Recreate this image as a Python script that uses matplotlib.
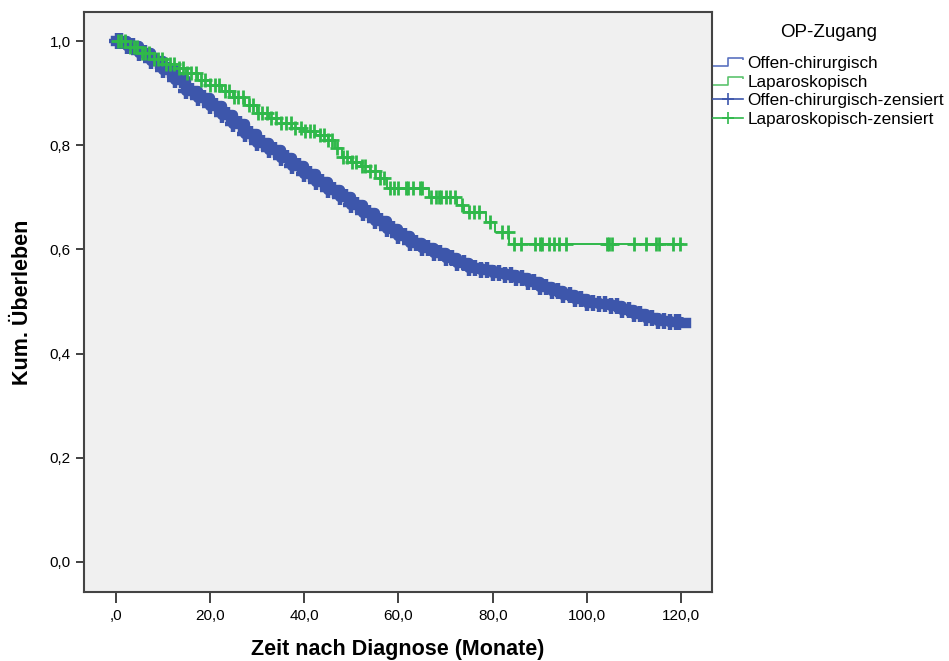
import numpy as np
import matplotlib
matplotlib.use("Agg")
import matplotlib.pyplot as plt
from matplotlib.lines import Line2D
from matplotlib.path import Path

plt.rcParams['font.family'] = ['Liberation Sans', 'DejaVu Sans']

# Offen-chirurgisch: Kaplan-Meier steps (months, cum. survival)
blue_t = [0, 2.5, 5, 7.5, 10, 12.5, 15, 17.5, 20, 22.5, 25, 27.5, 30, 32.5, 35,
          37.5, 40, 42.5, 45, 47.5, 50, 52.5, 55, 57.5, 60, 62.5, 65, 67.5, 70,
          72.5, 75, 77.5, 80, 82.5, 85, 87.5, 90, 92.5, 95, 97.5, 100, 102.5,
          105, 107.5, 110, 112.5, 115, 117.5, 120]
blue_s = [1.000, 0.991, 0.978, 0.962, 0.945, 0.925, 0.905, 0.890, 0.875, 0.858,
          0.840, 0.822, 0.805, 0.790, 0.775, 0.760, 0.745, 0.730, 0.715, 0.700,
          0.685, 0.670, 0.655, 0.640, 0.625, 0.613, 0.603, 0.593, 0.583, 0.574,
          0.565, 0.560, 0.555, 0.550, 0.545, 0.537, 0.528, 0.520, 0.512, 0.504,
          0.497, 0.495, 0.492, 0.483, 0.475, 0.469, 0.463, 0.460, 0.459]
blue_end = 121.0
# censored cases are so dense they form a solid band
blue_cens = [0.3, 1.2, 2.5, 3.7, 5, 6.2, 7.5, 8.8, 10, 11.3, 12.5, 13.8, 15, 16.3,
             17.5, 18.8, 20, 21.3, 22.5, 23.8, 25, 26.3, 27.5, 28.8, 30, 31.3,
             32.5, 33.8, 35, 36.3, 37.5, 38.8, 40, 41.3, 42.5, 43.8, 45, 46.3,
             47.5, 48.8, 50, 51.3, 52.5, 53.8, 55, 56.3, 57.5, 58.8, 60, 61.3,
             62.5, 63.8, 65, 66.3, 67.5, 68.8, 70, 71.3, 72.5, 73.8, 75, 76.3,
             77.5, 78.8, 80, 81.3, 82.5, 83.8, 85, 86.3, 87.5, 88.8, 90, 91.3,
             92.5, 93.8, 95, 96.3, 97.5, 98.8, 100, 101.3, 102.5, 103.8, 105,
             106.3, 107.5, 108.8, 110, 111.3, 112.5, 113.8, 115, 116.3, 117.5,
             118.8, 119.5]

# Laparoskopisch
green_t = [0, 2.5, 5, 7.5, 10, 12.5, 15, 17.5, 20, 22.5, 25, 27.5, 30, 32.5, 35,
           37.5, 40, 42.5, 45, 46.5, 48, 50, 52, 54, 56, 57.5, 66.5, 72.5, 74,
           78.5, 80.5, 83.5]
green_s = [1.000, 0.988, 0.978, 0.966, 0.957, 0.948, 0.938, 0.925, 0.916, 0.905,
           0.892, 0.877, 0.862, 0.852, 0.843, 0.834, 0.828, 0.820, 0.810, 0.795,
           0.778, 0.768, 0.760, 0.750, 0.738, 0.718, 0.700, 0.685, 0.672, 0.653,
           0.634, 0.610]
green_end = 120.3
green_cens = [0.5, 1.2, 2, 3.1, 3.8, 4.6, 5.5, 6.3, 7, 8.2, 9, 9.8, 10.7, 11.5,
              12.3, 13.4, 14.2, 15.1, 16, 17, 18.2, 19, 20.1, 21, 22, 23.3, 24.1,
              25.2, 26, 27.1, 28.3, 29.2, 30.1, 31, 32.2, 33, 34.1, 35, 36.2,
              37.1, 38, 39.3, 40.1, 41.2, 42, 43.3, 44.2, 45.1, 46, 47, 48.2, 49,
              50.1, 51, 52.2, 53, 54, 55.1, 56, 57, 58.3, 59, 60, 61.5, 62, 63,
              64.5, 65, 67, 68, 68.5, 69, 70, 71, 72, 73.5, 75, 76, 77, 79.5, 82,
              83.3, 84.5, 86, 89, 90, 90.5, 92, 93, 94, 95.5, 104.2, 104.6,
              105.3, 110, 112.5, 114.6, 115.3, 118.2, 119.8]

x_ticks = [0, 20, 40, 60, 80, 100, 120]
x_labels = [',0', '20,0', '40,0', '60,0', '80,0', '100,0', '120,0']
y_ticks = [0.0, 0.2, 0.4, 0.6, 0.8, 1.0]
y_labels = ['0,0', '0,2', '0,4', '0,6', '0,8', '1,0']

BLUE = '#3d56ab'
GREEN = '#2fb84a'


def km_at(times, surv, c):
    """survival value of the step curve at time c"""
    i = np.searchsorted(times, c, side='right') - 1
    return surv[max(i, 0)]


fig = plt.figure(figsize=(9.49, 6.61), dpi=100)
ax = fig.add_axes([84 / 949, 1 - 592 / 661, 628 / 949, 580 / 661])
ax.set_facecolor('#f0f0f0')

# (times, surv, end, censored, colour, line width, marker size, marker edge width)
curves = [(blue_t, blue_s, blue_end, blue_cens, BLUE, 7.5, 11, 3.2),
          (green_t, green_s, green_end, green_cens, GREEN, 1.4, 9.5, 2.0)]
for t, s, end, cens, col, lw, ms, mw in curves:
    ax.step(t + [end], s + [s[-1]], where='post', color=col, lw=lw, zorder=3)
    cy = [km_at(t, s, c) for c in cens]
    ax.plot(cens, cy, linestyle='none', marker='+', color=col,
            markersize=ms, markeredgewidth=mw, zorder=4)
# thin tail at the end of the blue curve
ax.plot([blue_t[-1], blue_end], [blue_s[-1], blue_s[-1]], color=BLUE, lw=1.4, zorder=5)

ax.set_xlim(-6.7, 126.5)
ax.set_ylim(-0.058, 1.056)
ax.set_xticks(x_ticks)
ax.set_xticklabels(x_labels)
ax.set_yticks(y_ticks)
ax.set_yticklabels(y_labels)
ax.tick_params(axis='both', labelsize=11, color='#333333', width=1.3, length=6)
ax.tick_params(axis='x', length=8, pad=4)
for sp in ax.spines.values():
    sp.set_color('#444444')
    sp.set_linewidth(1.5)

ax.set_xlabel('Zeit nach Diagnose (Monate)', fontsize=15.5, fontweight='bold', labelpad=12)
ax.set_ylabel('Kum. Überleben', fontsize=15.5, fontweight='bold', labelpad=12)

# legend with SPSS-style step icons
step_icon = Path([(-1, -0.3), (0, -0.3), (0, 0.3), (1, 0.3), (1, 0.15)],
                 [Path.MOVETO, Path.LINETO, Path.LINETO, Path.LINETO, Path.LINETO])
handles = [
    Line2D([], [], color='#5a72c0', marker=step_icon, markersize=21, linestyle='none',
           markerfacecolor='none', markeredgewidth=1.2),
    Line2D([], [], color='#5cc46e', marker=step_icon, markersize=21, linestyle='none',
           markerfacecolor='none', markeredgewidth=1.2),
    Line2D([], [], color=BLUE, marker='+', markersize=9, lw=1.2, markeredgewidth=1.2),
    Line2D([], [], color=GREEN, marker='+', markersize=9, lw=1.2, markeredgewidth=1.2),
]
labels = ['Offen-chirurgisch', 'Laparoskopisch', 'Offen-chirurgisch-zensiert',
          'Laparoskopisch-zensiert']
leg = fig.legend(handles, labels, title='OP-Zugang', loc='upper left',
                 bbox_to_anchor=(713 / 949, 1 - 24 / 661), frameon=False,
                 fontsize=12.3, title_fontsize=13.5, handlelength=1.75,
                 handletextpad=0.25, labelspacing=0.2, borderpad=0,
                 borderaxespad=0, numpoints=1)
leg._legend_box.sep = 11

fig.savefig('out.png', dpi=100)
